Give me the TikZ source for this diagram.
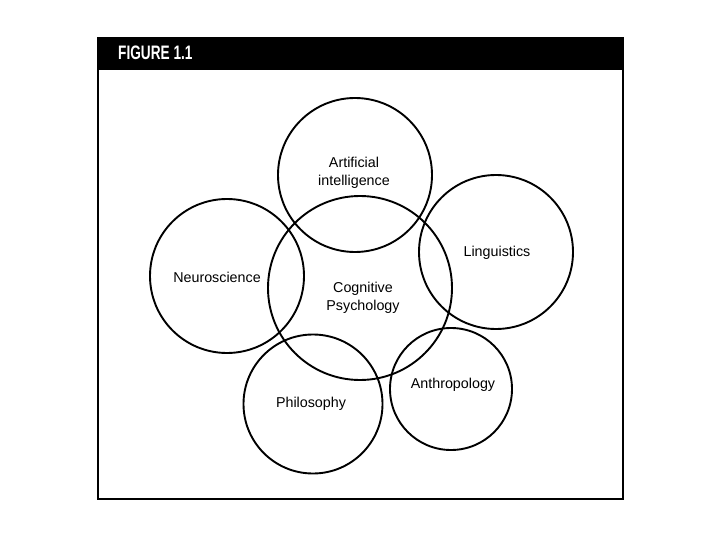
\documentclass[tikz,border=0pt]{standalone}
\usepackage{fontspec}
\setmainfont{Liberation Sans}
\begin{document}
\begin{tikzpicture}[x=1pt,y=-1pt,
  field/.style={circle,draw=black,line width=1.9pt,inner sep=0pt},
  lbl/.style={font=\fontsize{14.3}{17.5}\selectfont,align=center,inner sep=0pt}]
\useasboundingbox (0,0) rectangle (720,540);
\fill[white] (0,0) rectangle (720,540);
% frame and header
\draw[line width=2pt] (97.5,38) rectangle (623,499);
\fill[black] (96.5,37) rectangle (624,70);
\node[anchor=west,text=white,inner sep=0pt] (title) at (118,52.5)
  {\scalebox{0.7}[1]{\fontsize{19.5}{20}\bfseries\selectfont FIGURE 1.1}};
% circles
\node[field,minimum size=154pt] (ai)   at (355,175) {};
\node[field,minimum size=184pt] (cog)  at (360,288) {};
\node[field,minimum size=154pt] (neu)  at (227,276) {};
\node[field,minimum size=154pt] (lin)  at (496,252) {};
\node[field,minimum size=139pt] (phi)  at (313,404) {};
\node[field,minimum size=122pt] (ant)  at (451,389) {};
% labels
\node[lbl] (aiT)  at (354,173) {Artificial\\intelligence};
\node[lbl] (cogT) at (363,298) {Cognitive\\Psychology};
\node[lbl] (neuT) at (217,277) {Neuroscience};
\node[lbl] (linT) at (497,253) {Linguistics};
\node[lbl] (phiT) at (311,404) {Philosophy};
\node[lbl] (antT) at (453,385) {Anthropology};
\end{tikzpicture}
\end{document}
